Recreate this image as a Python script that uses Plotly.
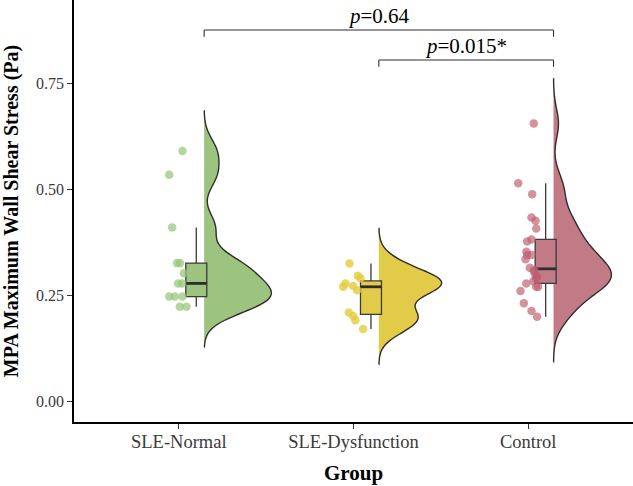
import numpy as np
import plotly.graph_objects as go

groups = ["SLE-Normal", "SLE-Dysfunction", "Control"]

normal_values = [0.591, 0.535, 0.410, 0.326, 0.326, 0.302, 0.278, 0.278,
                 0.247, 0.247, 0.247, 0.223, 0.223]
dysfunction_values = [0.325, 0.296, 0.290, 0.278, 0.272, 0.270, 0.262,
                      0.209, 0.201, 0.191, 0.170]
control_values = [0.656, 0.515, 0.489, 0.434, 0.426, 0.408, 0.382, 0.377,
                  0.353, 0.345, 0.345, 0.335, 0.315, 0.310, 0.306, 0.298,
                  0.294, 0.290, 0.283, 0.278, 0.270, 0.270, 0.260, 0.231,
                  0.213, 0.199]

# horizontal jitter of each point (category units)
normal_jitter = [0.021, -0.055, -0.038, -0.010, 0.006, 0.029, -0.004, 0.019,
                 -0.055, -0.023, 0.021, 0.006, 0.044]
dysfunction_jitter = [-0.023, 0.025, 0.040, -0.046, -0.002, -0.059, 0.021,
                      -0.027, -0.002, 0.011, 0.055]
control_jitter = [0.032, -0.057, 0.023, 0.019, 0.042, 0.046, 0.019, -0.006,
                  -0.010, 0.019, -0.006, -0.015, 0.009, 0.036, 0.032, 0.042,
                  0.051, 0.045, 0.030, -0.011, 0.046, 0.057, -0.044, -0.025,
                  0.019, 0.051]

p_labels = ["<i>p</i>=0.64", "<i>p</i>=0.015*"]
comparisons = [(0, 2), (1, 2)]

fills = ["#9DC47E", "#E1CB48", "#C27B86"]
point_colors = ["rgba(150,198,120,0.72)", "rgba(228,202,55,0.78)",
                "rgba(190,95,112,0.68)"]
violin_widths = [0.77, 0.72, 0.66]

all_values = [normal_values, dysfunction_values, control_values]
all_jitter = [normal_jitter, dysfunction_jitter, control_jitter]

SERIF = "Liberation Serif, Times New Roman, serif"
DARK = "#2E2E2E"
VIOLIN_NUDGE = 0.145
BOX_NUDGE = 0.10
BOX_WIDTH = 0.12


def bw_nrd0(x):
    x = np.asarray(x, dtype=float)
    sd = np.std(x, ddof=1)
    q75, q25 = np.percentile(x, [75, 25])
    lo = min(sd, (q75 - q25) / 1.34)
    return 0.9 * lo * len(x) ** (-0.2)


fig = go.Figure()

for i, (vals, jit) in enumerate(zip(all_values, all_jitter)):
    pos = i + 1
    n = len(vals)
    bw = bw_nrd0(vals)
    fig.add_trace(go.Violin(
        x=[pos + VIOLIN_NUDGE] * n, y=vals, side="positive",
        width=violin_widths[i], scalemode="width",
        bandwidth=bw, spanmode="manual",
        span=[min(vals) - 3 * bw, max(vals) + 3 * bw],
        points=False, box_visible=False, meanline_visible=False,
        fillcolor=fills[i], line=dict(color=DARK, width=1.4),
        opacity=1, showlegend=False, hoverinfo="skip"))

for i, vals in enumerate(all_values):
    pos = i + 1
    n = len(vals)
    fig.add_trace(go.Box(
        x=[pos + BOX_NUDGE] * n, y=vals, width=BOX_WIDTH,
        quartilemethod="inclusive",
        boxpoints="outliers", marker=dict(opacity=0, size=1),
        fillcolor=fills[i], line=dict(color="#3A3A3A", width=1.3),
        whiskerwidth=0, showlegend=False, hoverinfo="skip"))
    med = float(np.median(vals))
    fig.add_trace(go.Scatter(
        x=[pos + BOX_NUDGE - BOX_WIDTH / 2, pos + BOX_NUDGE + BOX_WIDTH / 2],
        y=[med, med], mode="lines", line=dict(color=DARK, width=2.8),
        showlegend=False, hoverinfo="skip"))

for i, (vals, jit) in enumerate(zip(all_values, all_jitter)):
    pos = i + 1
    fig.add_trace(go.Scatter(
        x=[pos + j for j in jit], y=vals, mode="markers",
        marker=dict(size=8.5, color=point_colors[i], line=dict(width=0)),
        showlegend=False, hoverinfo="skip"))

# significance brackets
bracket_levels = [0.877, 0.806]
tip = 0.016
shapes = []
annotations = []
for (a, b), lvl, lab in zip(comparisons, bracket_levels, p_labels):
    xa = a + 1 + VIOLIN_NUDGE
    xb = b + 1 + VIOLIN_NUDGE
    for x0, y0, x1, y1 in [(xa, lvl - tip, xa, lvl), (xa, lvl, xb, lvl),
                           (xb, lvl, xb, lvl - tip)]:
        shapes.append(dict(type="line", xref="x", yref="y", x0=x0, y0=y0,
                           x1=x1, y1=y1, line=dict(color=DARK, width=1.1)))
    annotations.append(dict(x=(xa + xb) / 2, y=lvl, xref="x", yref="y",
                            text=lab, showarrow=False, yanchor="bottom",
                            font=dict(family=SERIF, size=21, color="black")))

fig.update_layout(
    width=633, height=486,
    margin=dict(l=74, r=0, t=0, b=64),
    paper_bgcolor="white", plot_bgcolor="white",
    shapes=shapes, annotations=annotations,
    showlegend=False, violinmode="overlay", boxmode="overlay",
    xaxis=dict(
        type="linear", range=[0.4, 3.6], tickvals=[1, 2, 3], ticktext=groups,
        showline=True, linecolor="black", linewidth=1.5, mirror=False,
        ticks="outside", ticklen=5, tickwidth=1.3, tickcolor="#333333",
        ticklabelstandoff=-3,
        showgrid=False, zeroline=False,
        tickfont=dict(family=SERIF, size=18.5, color="#3A3A3A"),
        title=dict(text="<b>Group</b>", standoff=14,
                   font=dict(family=SERIF, size=21, color="black"))),
    yaxis=dict(
        range=[-0.0496, 0.948], tickvals=[0, 0.25, 0.5, 0.75],
        tickformat=".2f",
        showline=True, linecolor="black", linewidth=1.5,
        ticks="outside", ticklen=5, tickwidth=1.3, tickcolor="#333333",
        showgrid=False, zeroline=False,
        tickfont=dict(family=SERIF, size=16, color="#3A3A3A"),
        title=dict(text="<b>MPA Maximum Wall Shear Stress (Pa)</b>",
                   standoff=12,
                   font=dict(family=SERIF, size=20, color="black"))),
)

fig.write_html("out.html")
